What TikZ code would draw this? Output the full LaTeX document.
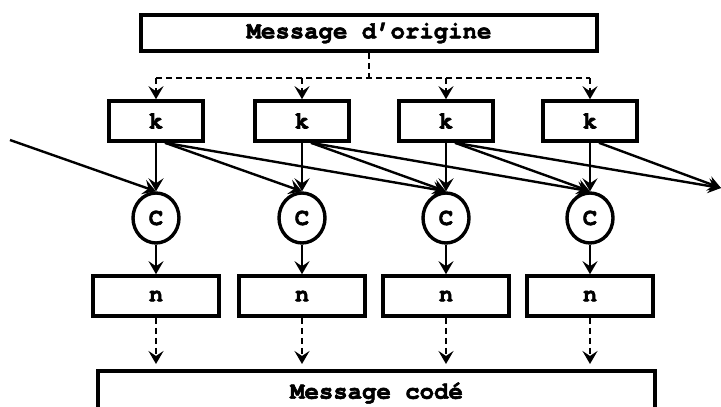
\documentclass[tikz,border=0pt]{standalone}
\usepackage{fontspec}
\setmonofont{texgyrecursor}[Extension=.otf,UprightFont=*-regular,BoldFont=*-bold,BoldFeatures={FakeBold=2.5}]
\usetikzlibrary{arrows.meta,shapes.geometric}

\tikzset{
  box/.style={draw,rectangle,line width=3.6pt,inner sep=0pt,
    font=\fontsize{24}{26}\selectfont\ttfamily\bfseries},
  cnode/.style={draw,ellipse,line width=3.4pt,inner sep=0pt,
    minimum width=46pt,minimum height=50pt,
    font=\fontsize{24}{26}\selectfont\ttfamily\bfseries},
  link/.style={line width=2.4pt,->},
  dlink/.style={line width=2.4pt,dash pattern=on 6pt off 4pt},
}

\begin{document}
\begin{tikzpicture}[x=1pt,y=-1pt,>={Stealth[length=13pt,width=15pt,inset=5pt]}]

  \useasboundingbox (0,0) rectangle (721,407);
  \clip (0,0) rectangle (721,407);

  % boxes
  \node[box,minimum width=456pt,minimum height=36pt] (orig) at (369,33) {Message d’origine};

  \foreach \i/\x in {1/156,2/302,3/446,4/590} {
    \node[box,minimum width=94pt,minimum height=40pt] (k\i) at (\x,121) {k};
    \node[cnode] (c\i) at (\x,218) {C};
    \node[box,minimum width=126pt,minimum height=40pt] (n\i) at (\x,296) {n};
  }

  \node[box,minimum width=557pt,minimum height=44pt] (code) at (376.5,393) {Message codé};

  \coordinate (bus) at (0,78);
  \coordinate (codetop) at (0,364);
  \coordinate (inL) at (10,140);
  \coordinate (outR) at (721,188);

  % dashed distribution
  \draw[dlink] (orig.south) -- (orig.south |- bus);
  \draw[dlink] (k1.north |- bus) -- (k4.north |- bus);

  \foreach \i in {1,...,4} {
    \draw[dlink,->] (k\i.north |- bus) -- (k\i.north);
    \draw[link] (k\i.south) -- (c\i.north);
    \draw[link] (c\i.south) -- (n\i.north);
    \draw[dlink,->] (n\i.south) -- (n\i.south |- codetop);
  }

  % chaining
  \draw[link] (inL) -- (c1.north);
  \draw[link] ([xshift=9pt]k1.south) -- (c2.north);
  \draw[link] ([xshift=9pt]k1.south) -- (c3.north);
  \draw[link] ([xshift=9pt]k2.south) -- (c3.north);
  \draw[link] ([xshift=9pt]k2.south) -- (c4.north);
  \draw[link] ([xshift=9pt]k3.south) -- (c4.north);
  \draw[link] ([xshift=9pt]k3.south) -- (outR);
  \draw[link] ([xshift=9pt]k4.south) -- (outR);

\end{tikzpicture}
\end{document}
